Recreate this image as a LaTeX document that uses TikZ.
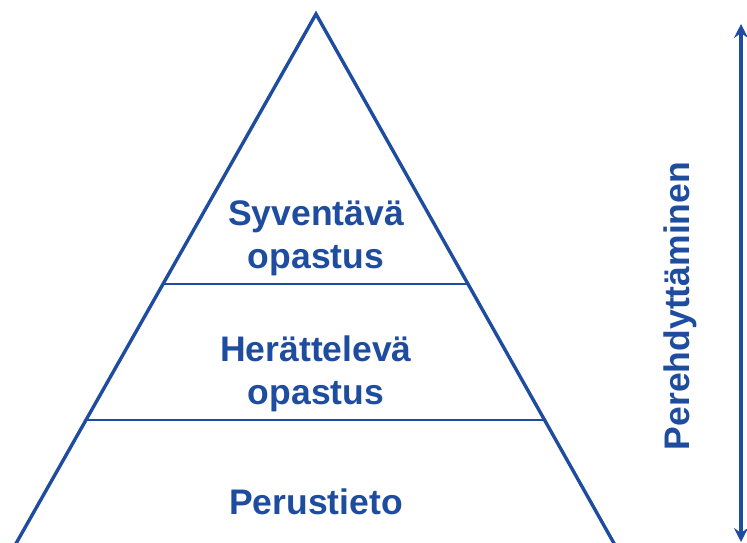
\documentclass[tikz,border=0pt]{standalone}
\usepackage{fontspec}
\setmainfont{Liberation Sans}
\usepackage{tikz}
\usetikzlibrary{arrows.meta,calc}
\definecolor{pyrblue}{RGB}{30,76,158}
\newcommand*\pyrfont{\fontsize{35.5}{43}\bfseries\selectfont}
\tikzset{
    pyredge/.style  = {draw=pyrblue, line width=3.4pt, line join=miter},
    layerline/.style= {draw=pyrblue, line width=2pt},
    layertext/.style= {text=pyrblue, font=\pyrfont, align=center,
                      inner sep=0pt},
    axistip/.tip    = {Stealth[length=14pt,width=14pt,inset=5pt]},
    depthaxis/.style= {draw=pyrblue, line width=3.2pt, axistip-axistip},
  }

\begin{document}
\begin{tikzpicture}[x=1pt,y=-1pt]
        % page frame, same size as the reference
        \useasboundingbox (0,0) rectangle (747,543);

        % corners of the pyramid (base lies below the page edge)
        \begin{scope}
        \clip (0,0) rectangle (747,543);
        \coordinate (apex) at (316,14);
        \coordinate (baseL) at (1,570);
        \coordinate (baseR) at (629,570);
        \draw[pyredge] (baseL) -- (apex) -- (baseR);
        \end{scope}

        % layer lines, cut off at the two sides
        \coordinate (midL) at ($(apex)!0.4863!(baseL)$);
        \coordinate (midR) at ($(apex)!0.4863!(baseR)$);
        \coordinate (lowL) at ($(apex)!0.7302!(baseL)$);
        \coordinate (lowR) at ($(apex)!0.7302!(baseR)$);
        \draw[layerline] (midL) -- (midR);
        \draw[layerline] (lowL) -- (lowR);

        % labels of the three layers
        \node[layertext] (top) at (316,238) {Syventävä\\opastus};
        \node[layertext] (middle) at (316,374) {Herättelevä\\opastus};
        \node[layertext] (base) at (316,502) {Perustieto};

        % double arrow and its label on the right
        \coordinate (axisTop) at (741,24);
        \coordinate (axisBot) at (741,542);
        \draw[depthaxis] (axisBot) -- (axisTop);
        \node[layertext, rotate=90] (depth) at (680,306) {Perehdyttäminen};
    \end{tikzpicture}
\end{document}
